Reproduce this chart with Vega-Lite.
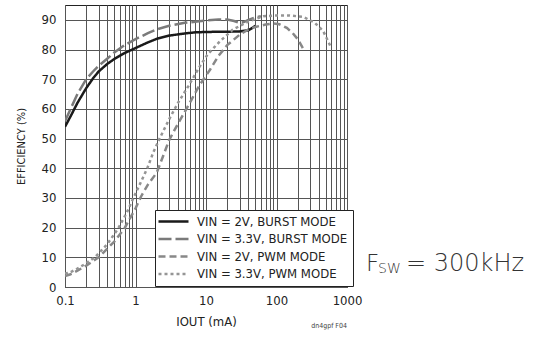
{
  "$schema": "https://vega.github.io/schema/vega-lite/v6.json",
  "width": 282,
  "height": 282,
  "padding": {"left": 15, "top": 5, "right": 5, "bottom": 5},
  "background": "white",
  "config": {
    "font": "DejaVu Sans Condensed, sans-serif",
    "view": {"stroke": "#222222", "strokeWidth": 1},
    "axis": {
      "grid": true,
      "gridColor": "#555555",
      "gridWidth": 1,
      "gridOpacity": 1,
      "ticks": false,
      "domain": false,
      "labelFont": "DejaVu Sans Condensed, sans-serif",
      "labelFontSize": 13,
      "labelColor": "#222222",
      "titleFont": "DejaVu Sans Condensed, sans-serif",
      "titleFontSize": 12,
      "titleFontWeight": "normal",
      "titleColor": "#222222"
    }
  },
  "layer": [
    {
      "data": {
        "values": [
          {"s": "VIN = 2V, BURST MODE", "i": 0.1, "e": 54},
          {"s": "VIN = 2V, BURST MODE", "i": 0.12, "e": 57.5},
          {"s": "VIN = 2V, BURST MODE", "i": 0.15, "e": 62},
          {"s": "VIN = 2V, BURST MODE", "i": 0.2, "e": 67},
          {"s": "VIN = 2V, BURST MODE", "i": 0.25, "e": 70.3},
          {"s": "VIN = 2V, BURST MODE", "i": 0.3, "e": 72.6},
          {"s": "VIN = 2V, BURST MODE", "i": 0.4, "e": 75.2},
          {"s": "VIN = 2V, BURST MODE", "i": 0.5, "e": 76.8},
          {"s": "VIN = 2V, BURST MODE", "i": 0.7, "e": 78.8},
          {"s": "VIN = 2V, BURST MODE", "i": 1, "e": 80.5},
          {"s": "VIN = 2V, BURST MODE", "i": 1.5, "e": 82.4},
          {"s": "VIN = 2V, BURST MODE", "i": 2, "e": 83.6},
          {"s": "VIN = 2V, BURST MODE", "i": 3, "e": 84.7},
          {"s": "VIN = 2V, BURST MODE", "i": 5, "e": 85.4},
          {"s": "VIN = 2V, BURST MODE", "i": 7, "e": 85.8},
          {"s": "VIN = 2V, BURST MODE", "i": 10, "e": 85.9},
          {"s": "VIN = 2V, BURST MODE", "i": 15, "e": 86},
          {"s": "VIN = 2V, BURST MODE", "i": 20, "e": 86},
          {"s": "VIN = 2V, BURST MODE", "i": 30, "e": 86.1},
          {"s": "VIN = 2V, BURST MODE", "i": 40, "e": 86.5},
          {"s": "VIN = 2V, BURST MODE", "i": 45, "e": 87.2},
          {"s": "VIN = 2V, BURST MODE", "i": 50, "e": 88},
          {"s": "VIN = 3.3V, BURST MODE", "i": 0.1, "e": 55.8},
          {"s": "VIN = 3.3V, BURST MODE", "i": 0.12, "e": 60},
          {"s": "VIN = 3.3V, BURST MODE", "i": 0.15, "e": 65},
          {"s": "VIN = 3.3V, BURST MODE", "i": 0.2, "e": 70},
          {"s": "VIN = 3.3V, BURST MODE", "i": 0.25, "e": 72.6},
          {"s": "VIN = 3.3V, BURST MODE", "i": 0.3, "e": 74.5},
          {"s": "VIN = 3.3V, BURST MODE", "i": 0.4, "e": 77},
          {"s": "VIN = 3.3V, BURST MODE", "i": 0.5, "e": 79},
          {"s": "VIN = 3.3V, BURST MODE", "i": 0.7, "e": 81.5},
          {"s": "VIN = 3.3V, BURST MODE", "i": 1, "e": 83.5},
          {"s": "VIN = 3.3V, BURST MODE", "i": 1.5, "e": 85.5},
          {"s": "VIN = 3.3V, BURST MODE", "i": 2, "e": 86.8},
          {"s": "VIN = 3.3V, BURST MODE", "i": 3, "e": 88},
          {"s": "VIN = 3.3V, BURST MODE", "i": 5, "e": 89},
          {"s": "VIN = 3.3V, BURST MODE", "i": 8, "e": 89.5},
          {"s": "VIN = 3.3V, BURST MODE", "i": 10, "e": 89.8},
          {"s": "VIN = 3.3V, BURST MODE", "i": 15, "e": 90.1},
          {"s": "VIN = 3.3V, BURST MODE", "i": 20, "e": 90.1},
          {"s": "VIN = 3.3V, BURST MODE", "i": 25, "e": 89.6},
          {"s": "VIN = 3.3V, BURST MODE", "i": 30, "e": 89},
          {"s": "VIN = 3.3V, BURST MODE", "i": 35, "e": 89.3},
          {"s": "VIN = 3.3V, BURST MODE", "i": 40, "e": 90},
          {"s": "VIN = 3.3V, BURST MODE", "i": 50, "e": 90.8},
          {"s": "VIN = 3.3V, BURST MODE", "i": 60, "e": 91.2},
          {"s": "VIN = 2V, PWM MODE", "i": 0.1, "e": 3.7},
          {"s": "VIN = 2V, PWM MODE", "i": 0.12, "e": 4.3},
          {"s": "VIN = 2V, PWM MODE", "i": 0.15, "e": 5.5},
          {"s": "VIN = 2V, PWM MODE", "i": 0.2, "e": 7.2},
          {"s": "VIN = 2V, PWM MODE", "i": 0.3, "e": 10},
          {"s": "VIN = 2V, PWM MODE", "i": 0.4, "e": 13},
          {"s": "VIN = 2V, PWM MODE", "i": 0.5, "e": 15.3},
          {"s": "VIN = 2V, PWM MODE", "i": 0.7, "e": 19.8},
          {"s": "VIN = 2V, PWM MODE", "i": 1, "e": 26.5},
          {"s": "VIN = 2V, PWM MODE", "i": 1.2, "e": 30.5},
          {"s": "VIN = 2V, PWM MODE", "i": 1.5, "e": 34.5},
          {"s": "VIN = 2V, PWM MODE", "i": 2, "e": 38.5},
          {"s": "VIN = 2V, PWM MODE", "i": 2.5, "e": 44.5},
          {"s": "VIN = 2V, PWM MODE", "i": 3, "e": 49.5},
          {"s": "VIN = 2V, PWM MODE", "i": 4, "e": 55},
          {"s": "VIN = 2V, PWM MODE", "i": 5, "e": 59},
          {"s": "VIN = 2V, PWM MODE", "i": 6.3, "e": 63.3},
          {"s": "VIN = 2V, PWM MODE", "i": 8, "e": 67.8},
          {"s": "VIN = 2V, PWM MODE", "i": 11.4, "e": 73.2},
          {"s": "VIN = 2V, PWM MODE", "i": 15, "e": 77.8},
          {"s": "VIN = 2V, PWM MODE", "i": 20, "e": 81.5},
          {"s": "VIN = 2V, PWM MODE", "i": 30, "e": 85},
          {"s": "VIN = 2V, PWM MODE", "i": 40, "e": 86.8},
          {"s": "VIN = 2V, PWM MODE", "i": 50, "e": 87.6},
          {"s": "VIN = 2V, PWM MODE", "i": 70, "e": 88.4},
          {"s": "VIN = 2V, PWM MODE", "i": 90, "e": 88.8},
          {"s": "VIN = 2V, PWM MODE", "i": 110, "e": 88.5},
          {"s": "VIN = 2V, PWM MODE", "i": 140, "e": 87.3},
          {"s": "VIN = 2V, PWM MODE", "i": 170, "e": 85.5},
          {"s": "VIN = 2V, PWM MODE", "i": 200, "e": 83.5},
          {"s": "VIN = 2V, PWM MODE", "i": 230, "e": 81},
          {"s": "VIN = 2V, PWM MODE", "i": 250, "e": 79.3},
          {"s": "VIN = 3.3V, PWM MODE", "i": 0.1, "e": 4.5},
          {"s": "VIN = 3.3V, PWM MODE", "i": 0.12, "e": 5},
          {"s": "VIN = 3.3V, PWM MODE", "i": 0.15, "e": 6.2},
          {"s": "VIN = 3.3V, PWM MODE", "i": 0.2, "e": 8},
          {"s": "VIN = 3.3V, PWM MODE", "i": 0.27, "e": 10.2},
          {"s": "VIN = 3.3V, PWM MODE", "i": 0.4, "e": 14.5},
          {"s": "VIN = 3.3V, PWM MODE", "i": 0.57, "e": 19.8},
          {"s": "VIN = 3.3V, PWM MODE", "i": 0.75, "e": 25},
          {"s": "VIN = 3.3V, PWM MODE", "i": 0.93, "e": 29.9},
          {"s": "VIN = 3.3V, PWM MODE", "i": 1.2, "e": 35.5},
          {"s": "VIN = 3.3V, PWM MODE", "i": 1.47, "e": 40},
          {"s": "VIN = 3.3V, PWM MODE", "i": 1.8, "e": 45.5},
          {"s": "VIN = 3.3V, PWM MODE", "i": 2.25, "e": 50.5},
          {"s": "VIN = 3.3V, PWM MODE", "i": 3, "e": 56.5},
          {"s": "VIN = 3.3V, PWM MODE", "i": 4, "e": 62},
          {"s": "VIN = 3.3V, PWM MODE", "i": 5.6, "e": 67.6},
          {"s": "VIN = 3.3V, PWM MODE", "i": 8.2, "e": 74.4},
          {"s": "VIN = 3.3V, PWM MODE", "i": 10.5, "e": 78.3},
          {"s": "VIN = 3.3V, PWM MODE", "i": 15.8, "e": 82.8},
          {"s": "VIN = 3.3V, PWM MODE", "i": 24, "e": 86.7},
          {"s": "VIN = 3.3V, PWM MODE", "i": 40, "e": 89.5},
          {"s": "VIN = 3.3V, PWM MODE", "i": 65, "e": 91.2},
          {"s": "VIN = 3.3V, PWM MODE", "i": 100, "e": 91.5},
          {"s": "VIN = 3.3V, PWM MODE", "i": 150, "e": 91.5},
          {"s": "VIN = 3.3V, PWM MODE", "i": 240, "e": 91},
          {"s": "VIN = 3.3V, PWM MODE", "i": 350, "e": 89},
          {"s": "VIN = 3.3V, PWM MODE", "i": 460, "e": 86.2},
          {"s": "VIN = 3.3V, PWM MODE", "i": 600, "e": 80.5}
        ]
      },
      "mark": {"type": "line", "strokeWidth": 2.5, "strokeCap": "butt", "clip": true},
      "encoding": {
        "x": {
          "field": "i",
          "type": "quantitative",
          "scale": {"type": "log", "domain": [0.1, 1000]},
          "axis": {
            "values": [0.1, 0.2, 0.3, 0.4, 0.5, 0.6, 0.7, 0.8, 0.9, 1, 2, 3, 4, 5, 6, 7, 8, 9, 10, 20, 30, 40, 50, 60, 70, 80, 90, 100, 200, 300, 400, 500, 600, 700, 800, 900, 1000],
            "format": ".4~g",
            "labelExpr": "(datum.value == 0.1 || datum.value == 1 || datum.value == 10 || datum.value == 100 || datum.value == 1000) ? datum.label : ''",
            "labelOverlap": false,
            "labelPadding": 7,
            "labelFlush": false,
            "titlePadding": 8,
            "titleFontSize": 13
          },
          "title": "IOUT (mA)"
        },
        "y": {
          "field": "e",
          "type": "quantitative",
          "scale": {"domain": [0, 95], "nice": false},
          "axis": {
            "values": [0, 10, 20, 30, 40, 50, 60, 70, 80, 90],
            "tickCount": 20,
            "labelOverlap": false,
            "labelPadding": 9,
            "titlePadding": 15,
            "titleFontSize": 11
          },
          "title": "EFFICIENCY (%)"
        },
        "color": {
          "field": "s",
          "type": "nominal",
          "scale": {
            "domain": ["VIN = 2V, BURST MODE", "VIN = 3.3V, BURST MODE", "VIN = 2V, PWM MODE", "VIN = 3.3V, PWM MODE"],
            "range": ["#1a1a1a", "#7a7a7a", "#888888", "#959595"]
          },
          "legend": {
            "title": null,
            "orient": "none",
            "legendX": 90,
            "legendY": 205,
            "fillColor": "white",
            "strokeColor": "#222222",
            "padding": 5,
            "symbolType": "M-1.6,0H4.4",
            "symbolSize": 100,
            "symbolStrokeWidth": 2.5,
            "labelFontSize": 13,
            "labelColor": "#222222",
            "labelOffset": 24,
            "rowPadding": 3.5
          }
        },
        "strokeDash": {
          "field": "s",
          "type": "nominal",
          "scale": {
            "domain": ["VIN = 2V, BURST MODE", "VIN = 3.3V, BURST MODE", "VIN = 2V, PWM MODE", "VIN = 3.3V, PWM MODE"],
            "range": [[1, 0], [13, 4], [7, 4], [3, 3]]
          },
          "legend": {
            "title": null,
            "orient": "none",
            "legendX": 90,
            "legendY": 205,
            "fillColor": "white",
            "strokeColor": "#222222",
            "padding": 5,
            "symbolType": "M-1.6,0H4.4",
            "symbolSize": 100,
            "symbolStrokeWidth": 2.5,
            "labelFontSize": 13,
            "labelColor": "#222222",
            "labelOffset": 24,
            "rowPadding": 3.5
          }
        }
      }
    },
    {
      "data": {"values": [{}]},
      "mark": {"type": "text", "align": "left", "baseline": "alphabetic", "fontSize": 23, "font": "DejaVu Sans", "fontWeight": 200, "color": "#333333", "dx": -2},
      "encoding": {"x": {"datum": 1986}, "y": {"datum": 5.4}, "text": {"value": "F"}}
    },
    {
      "data": {"values": [{}]},
      "mark": {"type": "text", "align": "left", "baseline": "alphabetic", "fontSize": 14, "font": "DejaVu Sans", "fontWeight": 200, "color": "#333333", "dx": 10, "dy": 2},
      "encoding": {"x": {"datum": 1986}, "y": {"datum": 5.4}, "text": {"value": "SW"}}
    },
    {
      "data": {"values": [{}]},
      "mark": {"type": "text", "align": "left", "baseline": "alphabetic", "fontSize": 24, "font": "DejaVu Sans", "fontWeight": 200, "color": "#333333", "dx": 38},
      "encoding": {"x": {"datum": 1986}, "y": {"datum": 5.4}, "text": {"value": "= 300kHz"}}
    },
    {
      "data": {"values": [{}]},
      "mark": {"type": "text", "align": "right", "baseline": "middle", "fontSize": 7, "color": "#444444"},
      "encoding": {"x": {"datum": 1000}, "y": {"datum": -13.2}, "text": {"value": "dn4gpf F04"}}
    }
  ]
}
